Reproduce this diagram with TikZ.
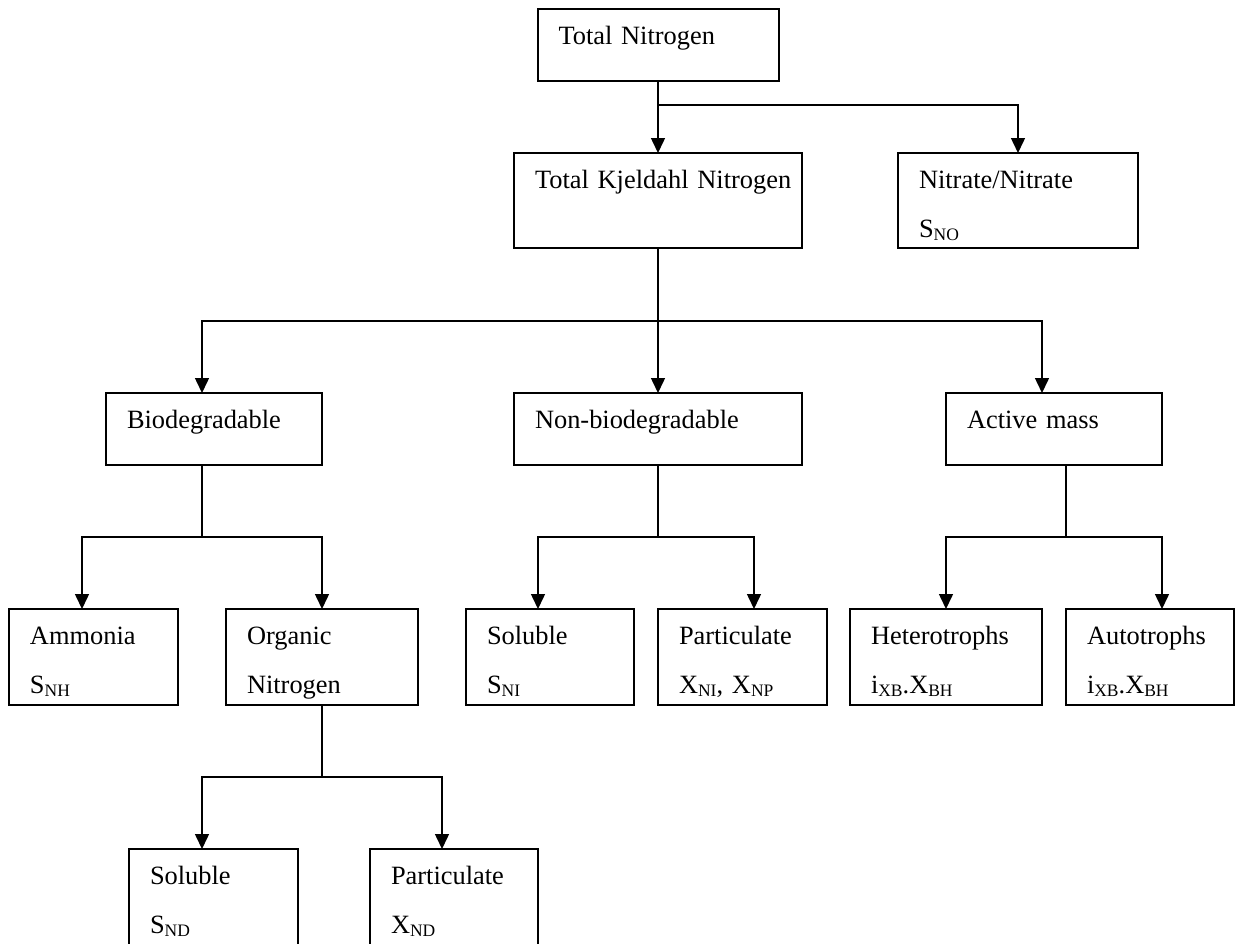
\documentclass[tikz,border=0pt]{standalone}
\usepackage{fontspec}
\setmainfont{Liberation Serif}
\usetikzlibrary{arrows.meta}
\newcommand{\subs}[1]{\raisebox{-3pt}{\fontsize{17.5}{17.5}\selectfont #1}}

\begin{document}
\begin{tikzpicture}[x=1pt, y=-1pt,
    box/.style={draw, line width=2pt, anchor=north west, outer sep=0pt,
      inner xsep=21pt, inner ysep=0pt, text height=35pt, align=left,
      font=\fontsize{26.4}{49}\selectfont},
    short/.style={text depth=37pt},
    mid/.style={text depth=60pt},
    tall/.style={text depth=61pt},
    link/.style={line width=1.5pt},
    arr/.style={link, -{Triangle[length=15pt, width=14pt]}}]
                \useasboundingbox (0,0) rectangle (1235,943);
                \clip (0,0) rectangle (1235,943);
                \node[box, short, text width=199pt] (tn) at (537.5,9) {Total Nitrogen};
                \node[box, mid, text width=246pt] (tkn) at (514,153) {\mbox{Total Kjeldahl Nitrogen}};
                \node[box, mid, text width=198pt] (nit) at (898,153) {Nitrate/Nitrate\\S\subs{NO}};
                \node[box, short, text width=174pt] (bio) at (106,393) {Biodegradable};
                \node[box, short, text width=246pt] (nbio) at (514,393) {Non-biodegradable};
                \node[box, short, text width=174pt] (act) at (946,393) {Active mass};
                \node[box, tall, text width=127pt] (amm) at (9,609) {Ammonia\\S\subs{NH}};
                \node[box, tall, text width=150pt] (org) at (226,609) {Organic\\Nitrogen};
                \node[box, tall, text width=126pt] (nsol) at (466,609) {Soluble\\S\subs{NI}};
                \node[box, tall, text width=127pt] (npart) at (658,609) {Particulate\\X\subs{NI}, X\subs{NP}};
                \node[box, tall, text width=150pt] (het) at (850,609) {Heterotrophs\\i\subs{XB}.X\subs{BH}};
                \node[box, tall, text width=126pt] (aut) at (1066,609) {Autotrophs\\i\subs{XB}.X\subs{BH}};
                \node[box, tall, text width=127pt] (osol) at (129,849) {Soluble\\S\subs{ND}};
                \node[box, tall, text width=126pt] (opart) at (370,849) {Particulate\\X\subs{ND}};
                \coordinate (j0) at (658,105);
                \coordinate (j1) at (658,321);
                \coordinate (j2) at (202,537);
                \coordinate (j3) at (658,537);
                \coordinate (j4) at (1066,537);
                \coordinate (j5) at (322,777);
                \draw[arr] (tn.south) -- (tkn.north);
                \draw[arr] (j0) -| (nit.north);
                \draw[link] (tkn.south) -- (j1);
                \draw[link] ([xshift=-12pt]bio.south) -- (j2);
                \draw[link] (nbio.south) -- (j3);
                \draw[link] ([xshift=12pt]act.south) -- (j4);
                \draw[link] (org.south) -- (j5);
                \foreach \from/\to/\dx in {j1/bio/-12, j1/nbio/0, j1/act/-12,
                    j2/amm/-11.5, j2/org/0, j3/nsol/-12, j3/npart/11.5,
                    j4/het/0, j4/aut/12, j5/osol/-11.5, j5/opart/-12}
                  \draw[arr] (\from) -| ([xshift=\dx pt]\to.north);
            \end{tikzpicture}
\end{document}
